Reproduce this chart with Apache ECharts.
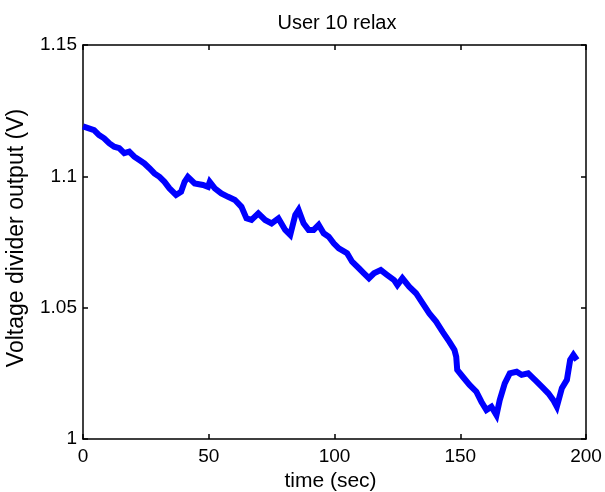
<!DOCTYPE html>
<html>
<head>
<meta charset="utf-8">
<script src="https://cdn.jsdelivr.net/npm/echarts@6/dist/echarts.min.js"></script>
<style>html,body{margin:0;padding:0;background:#fff}#c{width:605px;height:492px}</style>
</head>
<body>
<div id="c"></div>
<script>
var titleText = "User 10 relax";
var xName = "time (sec)";
var yName = "Voltage divider output (V)";
var xTicks = [0, 50, 100, 150, 200];
var yTicks = [1, 1.05, 1.1, 1.15];
var timeSec = [0, 0.4, 4.4, 6.4, 8.4, 10.4, 12.4, 14.4, 16.4, 18.4, 20.4, 22.4, 24.4, 26.4, 28.4, 30.4, 32.4, 34.4, 37, 39, 40.4, 41.7, 44.4, 47.7, 49.7, 50.4, 52.4, 55, 57.7, 60.4, 63, 65, 67, 69.7, 72.4, 75, 77.7, 80.4, 82.4, 84.4, 85.7, 87.7, 89.7, 91.7, 93.7, 95.7, 97.7, 99.7, 101.7, 105, 107, 109.7, 111.7, 113.7, 115.7, 118.4, 121, 123.7, 125, 127, 129.7, 132.4, 135, 137.7, 140.4, 143, 145.7, 147.7, 148.4, 148.8, 151, 153.7, 156.4, 158.4, 160.4, 162.4, 164.4, 165.7, 167.7, 169.7, 172.4, 174.4, 177, 179.7, 182.4, 185, 187, 188.4, 190.4, 192.4, 193.7, 195, 196.4];
var voltage = [1.1190, 1.1183, 1.1176, 1.1157, 1.1145, 1.1126, 1.1113, 1.1107, 1.1088, 1.1094, 1.1075, 1.1062, 1.1049, 1.1031, 1.1011, 1.0998, 1.0979, 1.0954, 1.0929, 1.0941, 1.0979, 1.0998, 1.0973, 1.0967, 1.0960, 1.0979, 1.0954, 1.0935, 1.0922, 1.0910, 1.0884, 1.0840, 1.0834, 1.0859, 1.0834, 1.0821, 1.0840, 1.0796, 1.0777, 1.0853, 1.0872, 1.0821, 1.0796, 1.0796, 1.0815, 1.0783, 1.0770, 1.0745, 1.0726, 1.0707, 1.0675, 1.0650, 1.0631, 1.0612, 1.0631, 1.0643, 1.0624, 1.0605, 1.0586, 1.0612, 1.0580, 1.0555, 1.0517, 1.0478, 1.0447, 1.0408, 1.0370, 1.0339, 1.0313, 1.0263, 1.0237, 1.0206, 1.0180, 1.0142, 1.0110, 1.0123, 1.0091, 1.0148, 1.0212, 1.0250, 1.0256, 1.0244, 1.0250, 1.0225, 1.0199, 1.0174, 1.0148, 1.0123, 1.0193, 1.0225, 1.0301, 1.0320, 1.0301];

var data = timeSec.map(function (t, i) { return [t, voltage[i]]; });
var font = '"Liberation Sans", Arial, sans-serif';
var chart = echarts.init(document.getElementById('c'), null, {renderer: 'canvas'});
var xBase = {
  type: 'value', min: xTicks[0], max: xTicks[xTicks.length - 1], interval: 50,
  splitLine: {show: false},
  axisLine: {show: true, onZero: false, lineStyle: {color: '#000', width: 1.5}},
  axisTick: {show: true, inside: true, length: 5, lineStyle: {color: '#000', width: 1.5}}
};
var yBase = {
  type: 'value', min: yTicks[0], max: yTicks[yTicks.length - 1], interval: 0.05,
  splitLine: {show: false},
  axisLine: {show: true, onZero: false, lineStyle: {color: '#000', width: 1.5}},
  axisTick: {show: true, inside: true, length: 5, lineStyle: {color: '#000', width: 1.5}}
};
chart.setOption({
  animation: false,
  backgroundColor: '#fff',
  title: {
    text: titleText, left: 332, top: 8, textAlign: 'center',
    textStyle: {fontFamily: font, fontSize: 20, fontWeight: 'normal', color: '#000'}
  },
  grid: {left: 83, right: 19, top: 45, bottom: 53, containLabel: false, outerBoundsMode: 'none'},
  xAxis: [
    Object.assign({}, xBase, {
      position: 'bottom',
      name: xName, nameLocation: 'middle', nameGap: 31,
      nameTextStyle: {fontFamily: font, fontSize: 21, color: '#000', padding: [0, 8, 0, 0]},
      axisLabel: {fontFamily: font, fontSize: 19, color: '#000', margin: 8}
    }),
    Object.assign({}, xBase, {position: 'top', axisLabel: {show: false}})
  ],
  yAxis: [
    Object.assign({}, yBase, {
      position: 'left',
      name: yName, nameLocation: 'middle', nameGap: 55, nameRotate: 90,
      nameTextStyle: {fontFamily: font, fontSize: 23, color: '#000', padding: [0, 0, 0, 8]},
      axisLabel: {fontFamily: font, fontSize: 19, color: '#000', margin: 6,
        formatter: function (v) { return String(parseFloat(v.toFixed(2))); }}
    }),
    Object.assign({}, yBase, {position: 'right', axisLabel: {show: false}})
  ],
  series: [{
    type: 'line', data: data, xAxisIndex: 0, yAxisIndex: 0,
    showSymbol: false, symbol: 'none',
    lineStyle: {color: '#0000ff', width: 6, join: 'miter'},
    itemStyle: {color: '#0000ff'}
  }]
});
</script>
</body>
</html>
